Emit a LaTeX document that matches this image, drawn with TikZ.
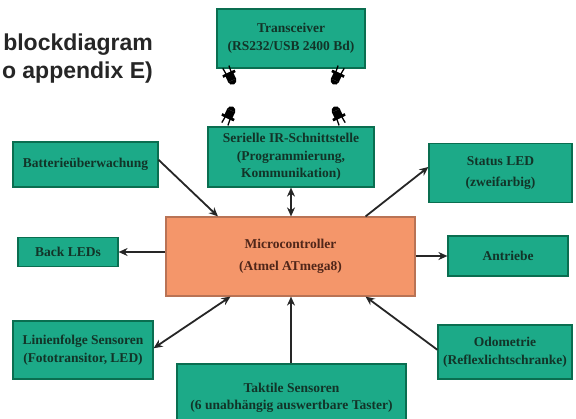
\documentclass[tikz,border=0pt]{standalone}
\usepackage{fontspec}
\setmainfont{Liberation Serif}
\setsansfont{Liberation Sans}
\usetikzlibrary{arrows.meta,calc}
\definecolor{boxgreen}{RGB}{28,170,136}
\definecolor{boxgreenedge}{RGB}{10,110,80}
\definecolor{gtext}{RGB}{18,52,40}
\definecolor{mcfill}{RGB}{244,150,106}
\definecolor{mcedge}{RGB}{185,115,85}
\definecolor{mctext}{RGB}{80,38,25}
\tikzset{
  gbox/.style={draw=boxgreenedge, line width=1.2pt, fill=boxgreen, text=gtext, align=center,
     font=\fontsize{13.5}{17.5}\selectfont\bfseries, inner sep=0pt},
  mcbox/.style={draw=mcedge, line width=1.2pt, fill=mcfill, text=mctext, align=center,
     font=\fontsize{13.5}{21.5}\selectfont\bfseries, inner sep=0pt},
  conn/.style={line width=1.8pt, draw=black!85, -{Stealth[length=9pt,width=8pt]}},
  bconn/.style={line width=1.8pt, draw=black!85, {Stealth[length=9pt,width=8pt]}-{Stealth[length=9pt,width=8pt]}},
  titletext/.style={font=\fontsize{23}{27}\selectfont\sffamily\bfseries, text=black!85, inner sep=0pt},
  irled/.pic={
    \fill[black] (-3,-3.2) rectangle (2,3.2);
    \fill[black] (2,-3.2) -- (2,3.2) arc (90:-90:3.2) -- cycle;
    \fill[black] (-4.5,-5) rectangle (-2.5,5);
    \draw[black, line width=1.3pt] (-4,-2) -- (-9,-2.5) (-4,2) -- (-9,2.5);
  }
}
\begin{document}
\begin{tikzpicture}[x=1pt,y=-1pt]
\useasboundingbox (0,0) rectangle (576,418);
\fill[white] (0,0) rectangle (576,418);

% title (partly cut off at the left)
\node[titletext, anchor=base east] (title1) at (153,50) {blockdiagram};
\node[titletext, anchor=base east] (title2) at (153,78) {o appendix E)};

% boxes
\node[gbox, minimum width=148pt, minimum height=59pt] (trans) at (291,38.5) {Transceiver\\(RS232/USB 2400 Bd)};
\node[gbox, minimum width=166pt, minimum height=60pt] (ser) at (291,157) {Serielle IR-Schnittstelle\\(Programmierung,\\Kommunikation)};
\node[gbox, minimum width=145pt, minimum height=45pt] (batt) at (85.5,164.5) {Batterieüberwachung};
\node[gbox, minimum width=100pt, minimum height=29pt] (back) at (68,252) {Back LEDs};
\node[mcbox, minimum width=249pt, minimum height=79pt] (mc) at (290.5,256.5) {Microcontroller\\(Atmel ATmega8)};
\node[gbox, minimum width=143pt, minimum height=59pt, font=\fontsize{13.5}{21}\selectfont\bfseries] (status) at (500.5,173) {Status LED\\(zweifarbig)};
\node[gbox, minimum width=120pt, minimum height=40pt] (antr) at (508,256) {Antriebe};
\node[gbox, minimum width=140pt, minimum height=58pt] (linie) at (83,350) {Linienfolge Sensoren\\(Fototransitor, LED)};
\node[gbox, minimum width=229pt, minimum height=68pt] (takt) at (291.5,398) {Taktile Sensoren\\(6 unabhängig auswertbare Taster)};
\node[gbox, minimum width=134pt, minimum height=54pt] (odo) at (505,352) {Odometrie\\(Reflexlichtschranke)};

% connectors
\draw[conn] ($(batt.north east)!0.4!(batt.south east)$) -- ($(mc.north west)!0.21!(mc.north east)$);
\draw[conn] (mc.west |- back.east) -- (back.east);
\draw[bconn] (ser.south) -- (mc.north -| ser.south);
\draw[conn] ($(mc.north west)!0.8!(mc.north east)$) -- ($(status.north west)!0.4!(status.south west)$);
\draw[conn] (mc.east |- antr.west) -- (antr.west);
\draw[bconn] ($(linie.north east)!0.47!(linie.south east)$) -- ($(mc.south west)!0.26!(mc.south east)$);
\draw[conn] (takt.north -| ser.south) -- (mc.south -| ser.south);
\draw[conn] ($(odo.north west)!0.46!(odo.south west)$) -- ($(mc.south west)!0.8!(mc.south east)$);

% IR LEDs between transceiver and serial interface
\pic[rotate=-65, scale=1.35, transform shape] (ledA) at (231,78) {irled};
\pic[rotate=-115, scale=1.35, transform shape] (ledB) at (336,78) {irled};
\pic[rotate=65, scale=1.35, transform shape] (ledC) at (230,113) {irled};
\pic[rotate=115, scale=1.35, transform shape] (ledD) at (337,113) {irled};
\end{tikzpicture}
\end{document}
